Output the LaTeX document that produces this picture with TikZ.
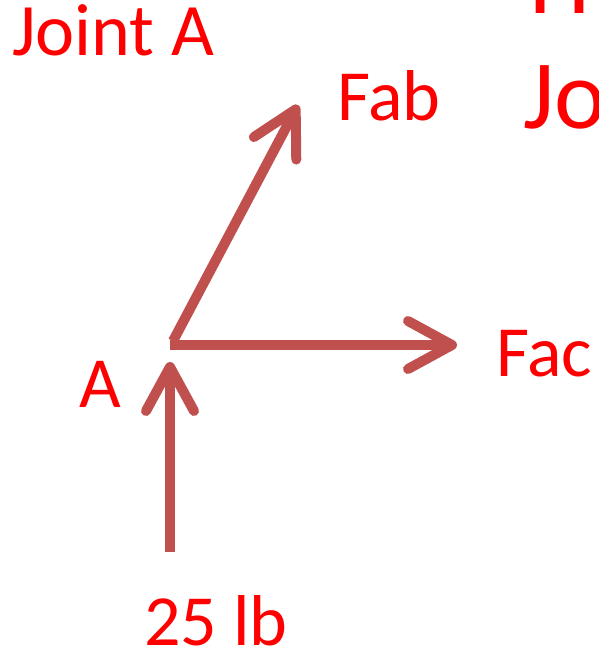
\documentclass[tikz,border=0pt]{standalone}
\usepackage{fontspec}
\setmainfont{Carlito}
\usetikzlibrary{arrows.meta}
\definecolor{arr}{HTML}{C0504D}
\definecolor{txt}{HTML}{FF0000}
\tikzset{
  force/.style={draw=arr, line width=10pt, -{Straight Barb[length=44pt,width=48pt,round]}},
  lbl/.style={text=txt, inner sep=0pt, anchor=base west, font=\fontsize{72}{86}\selectfont},
  big/.style={text=txt, inner sep=0pt, anchor=base west, font=\fontsize{98}{118}\selectfont}
}
\begin{document}
\begin{tikzpicture}[x=1pt,y=-1pt]
\useasboundingbox (0,0) rectangle (598,654);
\clip (0,0) rectangle (598,654);
\node[lbl, font=\fontsize{74}{88}\selectfont] (title) at (12,55) {Joint A};
\node[big] (h) at (529,13) {H};
\node[big] (jo) at (523,128) {Jo};
\node[lbl] (fab) at (337,120) {Fab};
\node[lbl] (fac) at (496,376) {Fac};
\node[lbl] (a) at (79,407) {A};
\node[lbl] (w) at (144,645) {25 lb};
\coordinate (A) at (170,345);
\coordinate (Ab) at (173,341);
\coordinate (B) at (298,105);
\coordinate (C) at (457,345);
\coordinate (D) at (170,362);
\coordinate (E) at (170,552);
\draw[force] (Ab) -- (B);
\draw[force] (A) -- (C);
\draw[force] (E) -- (D);
\end{tikzpicture}
\end{document}
